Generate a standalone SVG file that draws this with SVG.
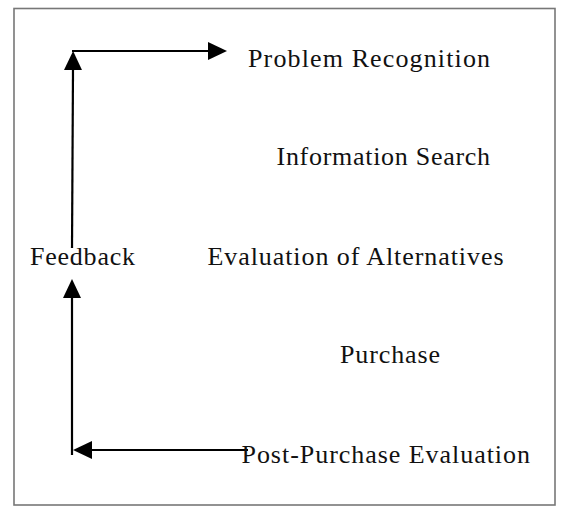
<svg xmlns="http://www.w3.org/2000/svg" width="570" height="514" viewBox="0 0 570 514">
<style>
text{font-family:"Liberation Serif","Times New Roman",serif;font-size:26px;fill:#111;}
.con{stroke:#000;stroke-width:2.2;fill:none;}
</style>
<defs>
<marker id="ah" markerUnits="userSpaceOnUse" markerWidth="20" markerHeight="20" refX="0" refY="9" orient="auto" viewBox="0 0 20 18">
<path d="M0,0 L19,9 L0,18 z" fill="#000"/>
</marker>
</defs>
<rect x="14" y="8.5" width="541" height="496.5" fill="#fff" stroke="#777" stroke-width="1.6"/>
<g id="connectors">
<line class="con" x1="72" y1="248" x2="73" y2="70" marker-end="url(#ah)"/>
<line class="con" x1="72" y1="51" x2="208" y2="51" marker-end="url(#ah)"/>
<line class="con" x1="248" y1="450" x2="92" y2="450" marker-end="url(#ah)"/>
<line class="con" x1="72" y1="455" x2="72" y2="298" marker-end="url(#ah)"/>
</g>
<g id="problem-recognition"><text x="248" y="66.5" textLength="242" lengthAdjust="spacing">Problem Recognition</text></g>
<g id="information-search"><text x="276.5" y="165" textLength="213.5" lengthAdjust="spacing">Information Search</text></g>
<g id="feedback"><text x="30" y="265" textLength="105" lengthAdjust="spacing">Feedback</text></g>
<g id="evaluation-of-alternatives"><text x="207.5" y="265" textLength="296" lengthAdjust="spacing">Evaluation of Alternatives</text></g>
<g id="purchase"><text x="340" y="363" textLength="100" lengthAdjust="spacing">Purchase</text></g>
<g id="post-purchase-evaluation"><text x="241.5" y="463" textLength="288.5" lengthAdjust="spacing">Post-Purchase Evaluation</text></g>
</svg>
